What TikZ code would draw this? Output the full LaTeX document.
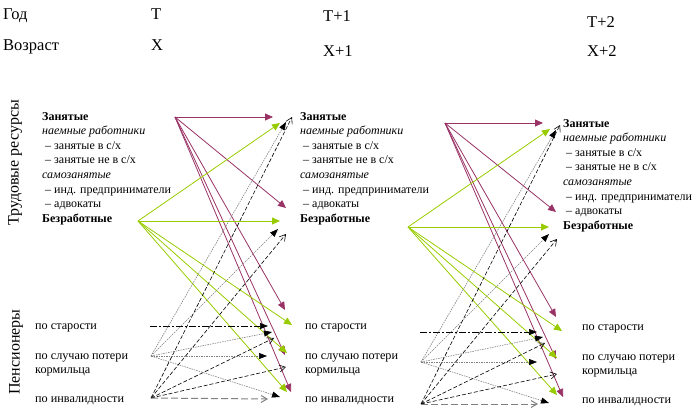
\documentclass[tikz,border=0pt]{standalone}
\usepackage{fontspec}
\setmainfont{Liberation Serif}
\usetikzlibrary{arrows.meta}
\definecolor{plum}{RGB}{153,51,102}
\definecolor{lime}{RGB}{153,204,0}
\tikzset{
  lbl/.style={anchor=base west, inner sep=0pt, font=\fontsize{12}{14}\selectfont},
  lblb/.style={lbl, font=\fontsize{12}{14}\selectfont\bfseries},
  lbli/.style={lbl, font=\fontsize{12}{14}\selectfont\itshape},
  pen/.style={anchor=base west, inner sep=0pt, font=\fontsize{12.2}{14}\selectfont},
  hdr/.style={anchor=base west, inner sep=0pt, font=\fontsize{16.5}{18}\selectfont},
  side/.style={rotate=90, inner sep=0pt, font=\fontsize{16}{18}\selectfont},
  plumarr/.style={draw=plum, line width=0.8pt, -{Triangle[length=8pt,width=7pt]}},
  limearr/.style={draw=lime, line width=0.8pt, -{Triangle[length=8pt,width=7pt]}},
  dotarr/.style={draw=gray, line width=0.6pt, dash pattern=on 1.5pt off 1pt, -{Triangle[length=8pt,width=6pt,color=black]}},
  dasharr/.style={draw=black, line width=0.6pt, dash pattern=on 4pt off 2pt, -{Straight Barb[length=6pt,width=7pt]}},
  dotdasharr/.style={draw=black, line width=0.7pt, dash pattern=on 7pt off 2pt on 2pt off 2pt, -{Triangle[length=8pt,width=6pt]}},
  longdasharr/.style={draw=gray, line width=1pt, dash pattern=on 7pt off 3pt, -{Straight Barb[length=6pt,width=7pt]}},
}
\newcommand\resblock[3]{%
  \node[lblb] (#1a) at (#2,#3) {Занятые};
  \node[lbli] (#1b) at (#2,#3+14.6) {наемные работники};
  \node[lbl] (#1c) at (#2,#3+29.2) {\ – занятые в с/х};
  \node[lbl] (#1d) at (#2,#3+43.8) {\ – занятые не в с/х};
  \node[lbli] (#1e) at (#2,#3+58.4) {самозанятые};
  \node[lbl] (#1f) at (#2,#3+73) {\ – инд. предприниматели};
  \node[lbl] (#1g) at (#2,#3+87.6) {\ – адвокаты};
  \node[lblb] (#1h) at (#2,#3+102.2) {Безработные};
}
\newcommand\penblock[3]{%
  \node[pen] (#1s) at (#2,#3) {по старости};
  \node[pen] (#1k) at (#2,#3+30) {по случаю потери};
  \node[pen] (#1m) at (#2,#3+44) {кормильца};
  \node[pen] (#1i) at (#2,#3+73) {по инвалидности};
}
\begin{document}
\begin{tikzpicture}[x=1pt,y=-1pt]
\useasboundingbox (0,0) rectangle (698,418);
% header
\node[hdr] (god) at (3,19) {Год};
\node[hdr] (vozr) at (3,50) {Возраст};
\node[hdr] (t0) at (151,19) {T};
\node[hdr] (x0) at (151,50) {X};
\node[hdr] (t1) at (323,21) {T+1};
\node[hdr] (x1) at (323,56) {X+1};
\node[hdr] (t2) at (587,27) {T+2};
\node[hdr] (x2) at (587,56) {X+2};
% side labels
\node[side] (tr) at (15,163) {Трудовые ресурсы};
\node[side] (pn) at (16,352) {Пенсионеры};
% blocks
\resblock{L}{42}{120}
\resblock{C}{300}{120}
\resblock{R}{563}{127}
\penblock{PL}{35}{329}
\penblock{PC}{305}{329}
\penblock{PR}{582}{330}

% ---------- left transition ----------
\coordinate (M1) at (175,117);
\coordinate (G1) at (138,221);
\coordinate (S1) at (150,326);
\coordinate (S2) at (151,356);
\coordinate (S3) at (151,398);
\coordinate (m1z) at (273,117);
\coordinate (m1b) at (286,208);
\coordinate (m1s) at (285,310);
\coordinate (m1k) at (285,355);
\coordinate (m1i) at (291,392);
\coordinate (g1z) at (280,123);
\coordinate (g1b) at (280,221);
\coordinate (g1s) at (292,325);
\coordinate (g1k) at (287,353);
\coordinate (g1i) at (287,392);
\coordinate (s1s) at (268,326);
\coordinate (s2z) at (286,122);
\coordinate (s2b) at (278,229);
\coordinate (s2s) at (272,332);
\coordinate (s2k) at (267,356);
\coordinate (s2i) at (280,397);
\coordinate (s3z) at (292,117);
\coordinate (s3b) at (286,234);
\coordinate (s3s) at (274,338);
\coordinate (s3k) at (286,367);
\coordinate (s3i) at (268,399);
\foreach \t in {m1z,m1b,m1s,m1k,m1i} \draw[plumarr] (M1) -- (\t);
\foreach \t in {g1z,g1b,g1s,g1k,g1i} \draw[limearr] (G1) -- (\t);
\draw[dotdasharr] (S1) -- (s1s);
\foreach \t in {s2z,s2b,s2s,s2k,s2i} \draw[dotarr] (S2) -- (\t);
\foreach \t in {s3z,s3b,s3s,s3k} \draw[dasharr] (S3) -- (\t);
\draw[longdasharr] (S3) -- (s3i);

% ---------- right transition ----------
\coordinate (M2) at (445,123);
\coordinate (G2) at (408,227);
\coordinate (T1) at (420,332);
\coordinate (T2) at (421,362);
\coordinate (T3) at (421,404);
\coordinate (m2z) at (543,123);
\coordinate (m2b) at (556,212);
\coordinate (m2s) at (556,317);
\coordinate (m2k) at (556,359);
\coordinate (m2i) at (563,397);
\coordinate (g2z) at (550,129);
\coordinate (g2b) at (549,227);
\coordinate (g2s) at (562,331);
\coordinate (g2k) at (557,358);
\coordinate (g2i) at (557,395);
\coordinate (t1s) at (537,332);
\coordinate (t2z) at (556,130);
\coordinate (t2b) at (549,234);
\coordinate (t2s) at (543,337);
\coordinate (t2k) at (537,362);
\coordinate (t2i) at (549,403);
\coordinate (t3z) at (560,125);
\coordinate (t3b) at (557,239);
\coordinate (t3s) at (545,343);
\coordinate (t3k) at (557,374);
\coordinate (t3i) at (538,404);
\foreach \t in {m2z,m2b,m2s,m2k,m2i} \draw[plumarr] (M2) -- (\t);
\foreach \t in {g2z,g2b,g2s,g2k,g2i} \draw[limearr] (G2) -- (\t);
\draw[dotdasharr] (T1) -- (t1s);
\foreach \t in {t2z,t2b,t2s,t2k,t2i} \draw[dotarr] (T2) -- (\t);
\foreach \t in {t3z,t3b,t3s,t3k} \draw[dasharr] (T3) -- (\t);
\draw[longdasharr] (T3) -- (t3i);
\end{tikzpicture}
\end{document}
